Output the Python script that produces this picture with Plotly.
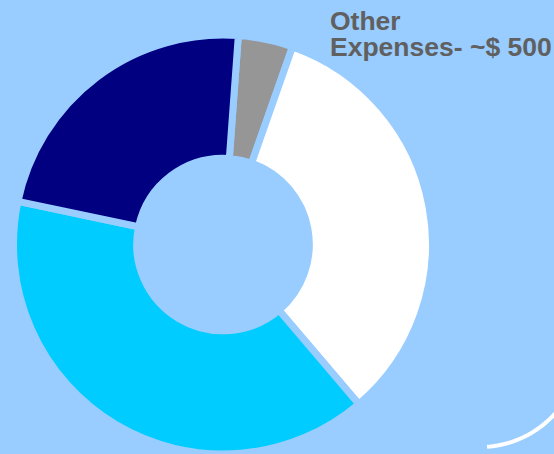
import math
import plotly.graph_objects as go

labels = ["Other Expenses", "Segment B", "Segment C", "Segment D"]
values = [4.2, 33.3, 39.4, 22.8]
colors = ["#969696", "#FFFFFF", "#00CCFF", "#000080"]

W, H = 554, 454
BG = "#99CCFF"
cx, cy, R = 223, 245, 210

fig = go.Figure()
fig.add_trace(go.Pie(
    labels=labels, values=values, sort=False, direction="clockwise",
    rotation=4.2, hole=0.412, textinfo="none", hoverinfo="label+percent",
    marker=dict(colors=colors, line=dict(color=BG, width=7)),
    domain=dict(x=[(cx - R) / W, (cx + R) / W], y=[max(0, (H - cy - R) / H), min(1, (H - cy + R) / H)]),
    showlegend=False,
))

# decorative white arc at bottom-right (runs off the right edge), drawn as a fine polyline
acx, acy, ar = 480, 346, 101
def px(a):
    x = acx + ar * math.cos(math.radians(a))
    y = acy + ar * math.sin(math.radians(a))
    return f"{x / W:.5f},{1 - y / H:.5f}"
angs = [86 - 2 * i for i in range(29)]
path = "M " + px(angs[0]) + "".join(" L " + px(a) for a in angs[1:])
fig.add_shape(type="path", xref="paper", yref="paper", path=path,
              line=dict(color="white", width=4))

font = dict(family="Liberation Sans, Arial, sans-serif", size=26.5, color="#606060")
fig.add_annotation(text="<b>Other</b>", x=329 / W, y=1 - 21.5 / H, xref="paper", yref="paper",
                   xanchor="left", yanchor="middle", height=20, borderpad=0,
                   showarrow=False, font=font)
fig.add_annotation(text="<b>Expenses- ~$ 500</b>", x=329 / W, y=1 - 47 / H, xref="paper", yref="paper",
                   xanchor="left", yanchor="middle", height=28, borderpad=0,
                   showarrow=False, font=font)

fig.update_layout(width=W, height=H, margin=dict(l=0, r=0, t=0, b=0),
                  paper_bgcolor=BG, plot_bgcolor=BG)
fig.write_html("out.html", config={"displayModeBar": False},
               post_script="document.body.style.margin='0';document.body.style.background='#99CCFF';")
